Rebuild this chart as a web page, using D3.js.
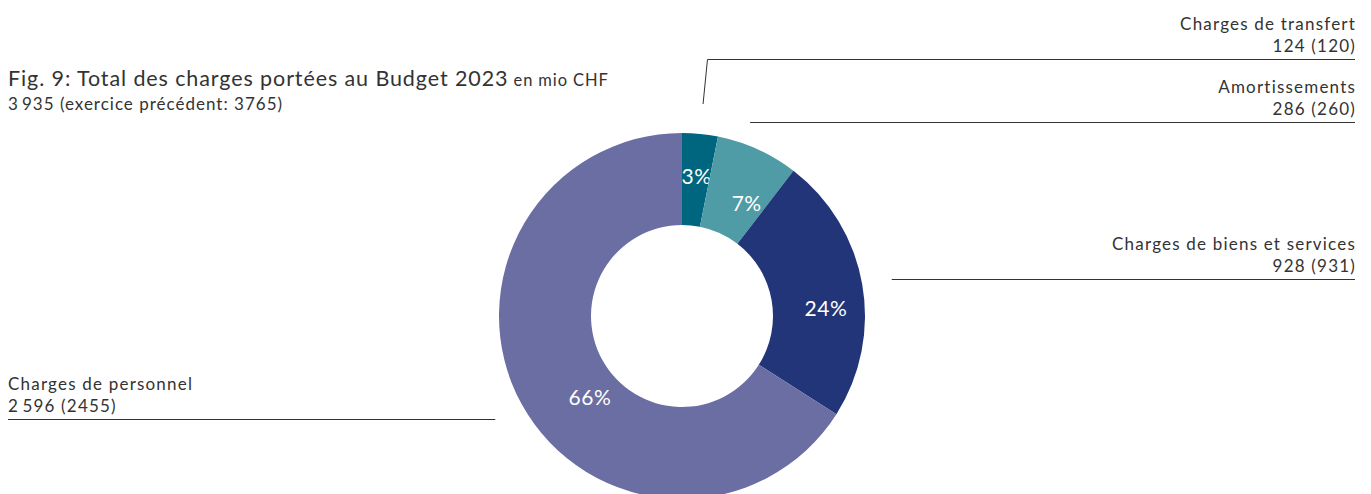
<!DOCTYPE html>
<html>
<head>
<meta charset="utf-8">
<script src="https://cdn.jsdelivr.net/npm/d3@7"></script>
<style>
  body { margin: 0; background: #fff; }
  text { font-family: Lato, "Open Sans", sans-serif; fill: #333; }
</style>
</head>
<body>
<div class="canvas"></div>
<script>
// data
const categories = ['Charges de transfert', 'Amortissements', 'Charges de biens et services', 'Charges de personnel']
const values = [124, 286, 928, 2596]
const previous = [120, 260, 931, 2455]
const titleText = 'Fig. 9: Total des charges portées au Budget 2023'
const unitText = ' en mio CHF'
const subtitleText = '3\u2009935 (exercice précédent: 3765)'

const width = 1371
const height = 494
const cx = 682, cy = 316
const outerR = 183, innerR = 91
const anchorR = 213

const colors = ['#00667f', '#4f9ba6', '#233579', '#6a6ea3']
// small nudges of the percent labels away from the centroid (like the original layout)
const labelNudge = [[1, -4], [8, 11], [9, 15], [28, 15]]

const fmt = v => v >= 1000 ? d3.format(',')(v).replace(',', '\u2009') : String(v)

const svg = d3.select('.canvas')
    .append('svg')
    .attr('width', width)
    .attr('height', height)

// title
const title = svg.append('text')
    .attr('x', 8)
    .attr('y', 86)
    .style('letter-spacing', '0.9px')
title.append('tspan')
    .style('font-size', '21.5px')
    .text(titleText)
title.append('tspan')
    .style('font-size', '16.5px')
    .text(unitText)

svg.append('text')
    .attr('x', 8)
    .attr('y', 110)
    .style('font-size', '17px')
    .style('letter-spacing', '1px')
    .text(subtitleText)

const total = d3.sum(values)
const pie = d3.pie().sort(null).value(d => d)
const arcs = pie(values)

const arc = d3.arc()
    .innerRadius(innerR)
    .outerRadius(outerR)

const graph = svg.append('g')
    .attr('transform', `translate(${cx}, ${cy})`)

const defs = svg.append('defs')
defs.selectAll('clipPath')
    .data(arcs).enter()
    .append('clipPath')
    .attr('id', (d, i) => 'clip' + i)
    .append('path')
    .attr('d', arc)

graph.selectAll('path.slice')
    .data(arcs).enter()
    .append('path')
    .attr('class', 'slice')
    .attr('d', arc)
    .attr('fill', (d, i) => colors[i])

// percent labels (clipped to their slice)
graph.selectAll('g.pct')
    .data(arcs).enter()
    .append('g')
    .attr('class', 'pct')
    .attr('clip-path', (d, i) => `url(#clip${i})`)
    .append('text')
    .attr('x', (d, i) => arc.centroid(d)[0] + labelNudge[i][0])
    .attr('y', (d, i) => arc.centroid(d)[1] + labelNudge[i][1])
    .attr('text-anchor', 'middle')
    .attr('dominant-baseline', 'central')
    .style('font-size', '21px')
    .style('letter-spacing', '0.5px')
    .style('fill', '#fff')
    .text(d => Math.round(d.value / total * 100) + '%')

// leader lines and category labels
const mid = d => (d.startAngle + d.endAngle) / 2
const anchor = d => [cx + anchorR * Math.sin(mid(d)), cy - anchorR * Math.cos(mid(d))]

const lineY = [59, null, null, null]
const rightEdge = width - 16
const leaders = svg.append('g')

arcs.forEach((d, i) => {
    const [ax, ay] = anchor(d)
    const right = ax > cx
    let ly = Math.round(ay) + 0.5
    let pts
    if (lineY[i] !== null) {
        // bent leader going up to the label baseline
        ly = lineY[i] + 0.5
        const ex = cx + (cy - ly) * Math.tan(mid(d))
        pts = [[ax, ay], [ex, ly], [rightEdge, ly]]
    } else if (right) {
        const startX = i === 1 ? ax - 20 : ax
        pts = [[startX, ly], [rightEdge, ly]]
    } else {
        pts = [[ax, ly], [8, ly]]
    }
    leaders.append('path')
        .attr('d', d3.line()(pts))
        .attr('fill', 'none')
        .attr('stroke', '#333')
        .attr('stroke-width', 1)

    const tx = right ? rightEdge + 1 : 8
    const t = svg.append('text')
        .attr('text-anchor', right ? 'end' : 'start')
        .style('font-size', '17px')
        .style('letter-spacing', '1.2px')
    t.append('tspan')
        .attr('x', tx)
        .attr('y', ly - 30)
        .text(categories[i])
    t.append('tspan')
        .attr('x', tx)
        .attr('y', ly - 8)
        .text(`${fmt(values[i])} (${previous[i]})`)
})
</script>
</body>
</html>
